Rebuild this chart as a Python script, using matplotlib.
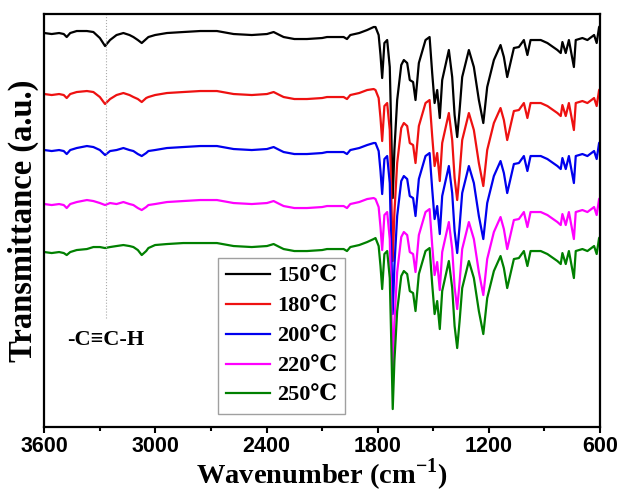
import numpy as np
import matplotlib
matplotlib.use('Agg')
import matplotlib.pyplot as plt
import matplotlib.transforms as mtransforms

plt.rcParams['mathtext.fontset'] = 'custom'
plt.rcParams['mathtext.rm'] = 'Liberation Serif'
plt.rcParams['mathtext.bf'] = 'Liberation Serif:bold'

# wavenumber grid (cm-1)
wn = [3600, 3560, 3520, 3495, 3479, 3460, 3425, 3370, 3335, 3300,
      3272, 3245, 3210, 3173, 3140, 3119, 3095, 3074, 3050, 3038,
      3002, 2938, 2850, 2758, 2668, 2578, 2480, 2398, 2362, 2330,
      2308, 2250, 2182, 2100, 2074, 2000, 1984, 1966, 1948, 1900,
      1857, 1822,
      1812, 1795, 1785, 1776, 1764, 1749, 1735, 1727, 1719, 1710,
      1695, 1673, 1659, 1641, 1627, 1609, 1596, 1578, 1542, 1520,
      1506, 1493, 1479, 1465, 1452, 1416, 1398, 1385, 1371, 1358,
      1344, 1308, 1281, 1254, 1230, 1209, 1173, 1137, 1119, 1101,
      1065, 1038, 1011, 992, 975, 920, 884, 830, 812, 803,
      785, 768, 741, 731, 695, 668, 632, 618, 605, 600]

# transmittance (a.u., stacked as in the figure)
t150 = [397, 396, 397, 396, 393, 397, 399, 399, 398, 392,
        384, 390, 395, 397, 395, 393, 390, 387, 391, 393,
        395, 397, 398, 399, 399, 396, 395, 396, 398, 395,
        393, 391, 391, 392, 393, 393, 393, 391, 395, 397,
        400, 403,
        403, 395, 375, 352, 387, 390, 363, 300, 232, 280,
        330, 365, 370, 367, 350, 348, 330, 367, 390, 393,
        357, 327, 340, 312, 350, 380, 353, 315, 293, 320,
        353, 380, 363, 330, 307, 343, 370, 385, 373, 353,
        382, 383, 390, 375, 390, 390, 387, 380, 377, 388,
        377, 390, 363, 390, 392, 390, 395, 387, 403, 404]

t180 = [336, 335, 336, 335, 332, 336, 338, 339, 338, 333,
        326, 331, 335, 337, 335, 333, 331, 328, 332, 333,
        335, 337, 338, 339, 339, 336, 335, 336, 338, 335,
        333, 331, 331, 332, 333, 333, 333, 331, 335, 337,
        340, 341,
        340, 332, 312, 289, 324, 327, 300, 237, 169, 217,
        267, 302, 307, 304, 287, 285, 267, 304, 327, 330,
        294, 264, 277, 249, 287, 317, 290, 252, 230, 257,
        290, 317, 300, 267, 244, 280, 307, 322, 310, 290,
        319, 320, 327, 312, 327, 327, 324, 317, 314, 325,
        314, 327, 300, 327, 329, 327, 332, 324, 340, 341]

t200 = [280, 279, 280, 279, 276, 280, 282, 284, 283, 280,
        275, 279, 280, 282, 280, 279, 276, 274, 277, 279,
        280, 282, 283, 284, 284, 281, 280, 281, 283, 280,
        278, 276, 276, 277, 278, 278, 278, 276, 280, 282,
        285, 287,
        287, 279, 259, 236, 271, 274, 247, 184, 116, 164,
        214, 249, 254, 251, 234, 232, 214, 251, 274, 277,
        241, 211, 224, 196, 234, 264, 237, 199, 177, 204,
        237, 264, 247, 214, 191, 227, 254, 269, 257, 237,
        266, 267, 274, 259, 274, 274, 271, 264, 261, 272,
        261, 274, 247, 274, 276, 274, 279, 271, 287, 288]

t220 = [226, 225, 226, 225, 222, 226, 228, 230, 229, 227,
        225, 227, 226, 228, 226, 225, 222, 220, 223, 225,
        226, 228, 229, 230, 230, 227, 226, 227, 229, 226,
        224, 222, 222, 223, 224, 224, 224, 222, 226, 228,
        231, 232,
        231, 223, 203, 180, 215, 218, 191, 128, 60, 108,
        158, 193, 198, 195, 178, 176, 158, 195, 218, 221,
        185, 155, 168, 140, 178, 208, 181, 143, 121, 148,
        181, 208, 191, 158, 135, 171, 198, 213, 201, 181,
        210, 211, 218, 203, 218, 218, 215, 208, 205, 216,
        205, 218, 191, 218, 220, 218, 223, 215, 231, 232]

t250 = [178, 177, 178, 177, 175, 178, 180, 181, 183, 183,
        182, 183, 184, 185, 184, 183, 180, 175, 179, 182,
        185, 186, 187, 187, 187, 184, 183, 184, 186, 183,
        181, 179, 179, 180, 181, 181, 181, 179, 183, 185,
        188, 191,
        192, 184, 164, 141, 176, 179, 152, 89, 21, 69,
        119, 154, 159, 156, 139, 137, 119, 156, 179, 182,
        146, 116, 129, 101, 139, 169, 142, 104, 82, 109,
        142, 169, 152, 119, 96, 132, 159, 174, 162, 142,
        171, 172, 179, 164, 179, 179, 176, 169, 166, 177,
        166, 179, 152, 179, 181, 179, 184, 176, 192, 193]

labels = ['150\u2103', '180\u2103', '200\u2103', '220\u2103', '250\u2103']
colors = ['black', '#ee1111', '#0000ee', '#ff00ff', '#008000']
series = [t150, t180, t200, t220, t250]

cch_wn = 3268   # -C≡C-H band marker
xticks = [3600, 3000, 2400, 1800, 1200, 600]

serif = ['Liberation Serif', 'DejaVu Serif', 'DejaVu Sans']

fig = plt.figure(figsize=(6.23, 4.92), dpi=100)
ax = fig.add_axes([0.0711, 0.132, 0.892, 0.8395])

for t, c, lab in zip(series, colors, labels):
    ax.plot(wn, t, color=c, lw=1.6, label=lab)

ax.axvline(cch_wn, ymin=0.265, ymax=1, color='#aaaaaa', lw=0.8, ls=':')
trans = mtransforms.blended_transform_factory(ax.transData, ax.transAxes)
ax.text(cch_wn, 0.21, '-C\u2261C-H', transform=trans, ha='center', va='center',
        family=serif, fontweight='bold', fontsize=16)

ax.set_xlim(3600, 600)
ax.set_ylim(3, 416)
ax.set_xticks(xticks)
ax.set_xticks([3300, 2700, 2100, 1500, 900], minor=True)
ax.set_yticks([])
ax.tick_params(axis='x', which='major', direction='out', length=4.5, width=1.5, pad=2)
ax.tick_params(axis='x', which='minor', direction='out', length=3, width=1.5)
for lbl in ax.get_xticklabels():
    lbl.set_family('Liberation Sans'); lbl.set_fontweight('bold'); lbl.set_fontsize(15.5)
for sp in ax.spines.values():
    sp.set_linewidth(1.6)

ax.set_xlabel(r'Wavenumber (cm$^{\mathbf{-1}}$)', family=serif, fontweight='bold',
              fontsize=20.5, labelpad=0)
ax.set_ylabel('Transmittance (a.u.)', family=serif, fontweight='bold',
              fontsize=23.5, labelpad=4)

leg = ax.legend(loc='lower left', bbox_to_anchor=(0.3126, 0.0315), borderaxespad=0,
                frameon=True, fancybox=False, edgecolor='#888888', handlelength=2.0,
                labelspacing=0.42, handletextpad=0.3, borderpad=0.35,
                prop={'family': serif, 'weight': 'bold', 'size': 16})
leg.get_frame().set_linewidth(1.0)

fig.savefig('out.png', dpi=100)
